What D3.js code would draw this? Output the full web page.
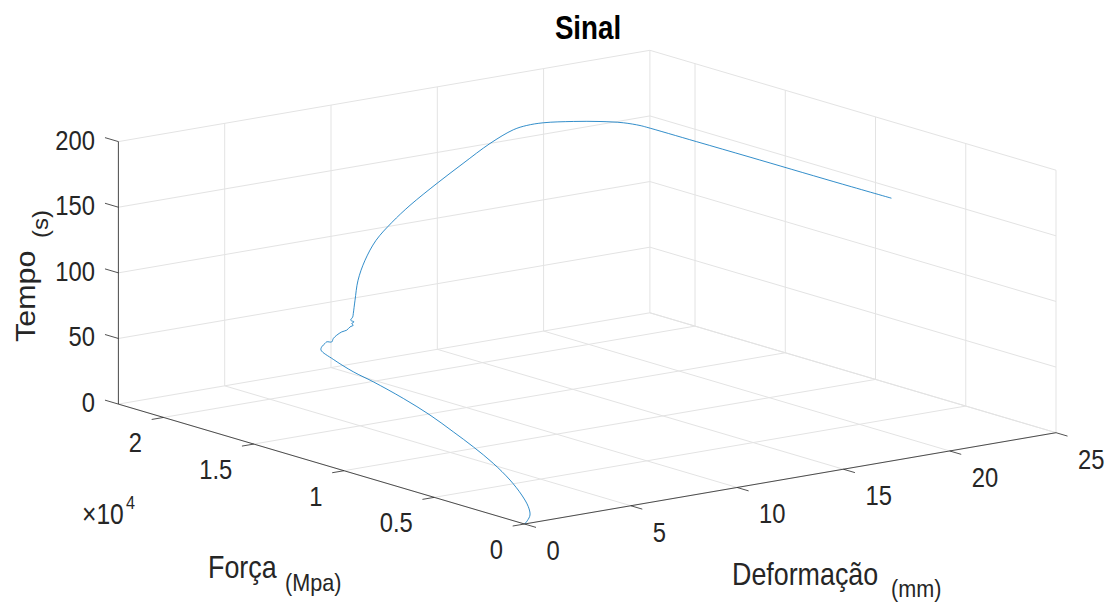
<!DOCTYPE html>
<html><head><meta charset="utf-8">
<script src="https://cdn.jsdelivr.net/npm/d3@7"></script>
<style>body{margin:0;background:#fff} svg{display:block}</style>
</head><body><svg id="c" width="1106" height="604"></svg>
<script>
const deformacao = [0, 0.164, 0.422, 0.732, 1.119, 1.577, 2.044, 2.469, 2.830, 3.220, 3.570, 3.877, 4.040, 4.298, 4.523, 4.662, 4.836, 4.919, 4.978, 5.132, 5.303, 5.492, 5.619, 5.788, 5.894, 5.943, 6.034, 6.063, 6.217, 6.359, 6.907, 7.736, 8.613, 9.536, 10.438, 11.324, 12.514, 13.613, 14.724, 15.541, 15.869, 16.171, 16.574, 16.888, 17.109, 17.198, 17.209, 17.22, 17.23, 17.24, 17.26];
const forca = [0, 38, 192, 651, 1473, 2660, 4137, 5745, 7278, 9027, 10920, 12944, 14243, 15655, 16601, 16726, 16749, 16752, 16544, 16637, 16650, 16596, 16468, 16485, 16427, 16573, 16553, 16770, 16840, 16975, 17526, 18336, 18981, 19458, 19635, 19680, 19587, 19440, 19253, 18924, 18569, 18004, 16817, 15708, 14677, 13857, 13499, 10764, 7799, 3165, 0];
const tempo = [0, 1.9, 4.9, 8.5, 13.0, 18.3, 23.7, 28.6, 32.8, 37.4, 41.4, 45.0, 46.9, 49.9, 52.5, 54.1, 56.1, 57.1, 57.7, 59.5, 61.5, 63.7, 65.2, 67.1, 68.4, 68.9, 70.0, 70.3, 72.1, 73.8, 80.1, 89.7, 99.9, 110.6, 121.1, 131.4, 145.2, 157.9, 170.8, 180.3, 184.1, 187.6, 192.3, 195.9, 198.5, 199.5, 199.6, 199.75, 199.9, 200.0, 200.2];

const defTicks = [0, 5, 10, 15, 20, 25];
const defTickLabels = ["0", "5", "10", "15", "20", "25"];
const forceTicks = [0, 5000, 10000, 15000, 20000];
const forceTickLabels = ["0", "0.5", "1", "1.5", "2"];
const timeTicks = [0, 50, 100, 150, 200];
const timeTickLabels = ["0", "50", "100", "150", "200"];

const svg = d3.select("#c");
const FONT = "'Liberation Sans', Arial, Helvetica, sans-serif";

const xS = d3.scaleLinear().domain([0, 25]).range([0, 1]);
const yS = d3.scaleLinear().domain([0, 22500]).range([0, 1]);
const zS = d3.scaleLinear().domain([0, 200]).range([0, 1]);
const O = [524.5, 524], VX = [531.5, -91.3], VY = [-406.1, -119.9], VZ = [0, -262.5];
function P(d, f, t) {
  const a = xS(d), b = yS(f), c = zS(t);
  return [O[0] + a*VX[0] + b*VY[0] + c*VZ[0], O[1] + a*VX[1] + b*VY[1] + c*VZ[1]];
}
function unit(v){const l=Math.hypot(v[0],v[1]);return [v[0]/l,v[1]/l];}
function seg(g, a, b) {
  g.append("line").attr("x1", a[0]).attr("y1", a[1]).attr("x2", b[0]).attr("y2", b[1]);
}
const [d0, d1] = xS.domain(), [f0, f1] = yS.domain(), [t0, t1] = zS.domain();

// grid
const grid = svg.append("g").attr("stroke", "#e3e3e3").attr("stroke-width", 1).attr("fill", "none");
defTicks.forEach(d => seg(grid, P(d, f1, t0), P(d, f1, t1)));
timeTicks.forEach(t => seg(grid, P(d0, f1, t), P(d1, f1, t)));
forceTicks.forEach(f => seg(grid, P(d1, f, t0), P(d1, f, t1)));
timeTicks.forEach(t => seg(grid, P(d1, f0, t), P(d1, f1, t)));
defTicks.forEach(d => seg(grid, P(d, f0, t0), P(d, f1, t0)));
forceTicks.forEach(f => seg(grid, P(d0, f, t0), P(d1, f, t0)));

// data line
const idx = d3.range(deformacao.length);
const line = d3.line()
  .x(i => P(deformacao[i], forca[i], tempo[i])[0])
  .y(i => P(deformacao[i], forca[i], tempo[i])[1])
  .curve(d3.curveCatmullRom.alpha(0.5));
svg.append("path").attr("d", line(idx)).attr("fill", "none")
  .attr("stroke", "#0072BD").attr("stroke-width", 1).attr("stroke-opacity", 0.8);

// axes
const ax = svg.append("g").attr("stroke", "#262626").attr("stroke-width", 0.8).attr("fill", "none");
seg(ax, P(d0, f1, t0), P(d0, f1, t1));
seg(ax, P(d0, f0, t0), P(d0, f1, t0));
seg(ax, P(d0, f0, t0), P(d1, f0, t0));
const uX = unit(VX), uY = unit(VY);
timeTicks.forEach(t => { const p = P(d0, f1, t); seg(ax, p, [p[0] + 14*uY[0], p[1] + 14*uY[1]]); });
forceTicks.forEach(f => { const p = P(d0, f, t0); seg(ax, p, [p[0] - 12*uX[0], p[1] - 12*uX[1]]); });
defTicks.forEach(d => { const p = P(d, f0, t0); seg(ax, p, [p[0] - 12*uY[0], p[1] - 12*uY[1]]); });

// text helper
function txt(s, x, y, opts) {
  const o = Object.assign({size: 28, sx: 0.85, anchor: "start", weight: "normal", rot: 0}, opts || {});
  svg.append("text")
    .attr("transform", `translate(${x},${y}) scale(${o.sx},1)` + (o.rot ? ` rotate(${o.rot})` : ""))
    .attr("text-anchor", o.anchor).attr("font-family", FONT).attr("font-size", o.size)
    .attr("font-weight", o.weight).attr("fill", o.color || "#262626").text(s);
}

timeTicks.forEach((t, i) => { const p = P(d0, f1, t); txt(timeTickLabels[i], 95, p[1] + 8, {anchor: "end"}); });
forceTicks.forEach((f, i) => { const p = P(d0, f, t0); txt(forceTickLabels[i], p[0] - 21.5, p[1] + 35, {anchor: "end"}); });
defTicks.forEach((d, i) => { const p = P(d, f0, t0); txt(defTickLabels[i], p[0] + 22, p[1] + 36); });

// exponent
txt("\u00d710", 82, 524, {size: 29});
txt("4", 126, 509, {size: 19});

// title
txt("Sinal", 588, 38.5, {size: 33, sx: 0.84, anchor: "middle", weight: "bold", color: "#000"});

// axis labels
txt("Deformação", 732, 585, {size: 30.5, sx: 0.88});
txt("(mm)", 891, 597, {size: 24, sx: 0.9});
txt("Força", 208, 578, {size: 30.5, sx: 0.88});
txt("(Mpa)", 285, 591, {size: 24, sx: 0.9});
txt("Tempo", 35, 342, {size: 30.5, sx: 0.88, rot: -90});
txt("(s)", 48, 238, {size: 24, sx: 0.9, rot: -90});
</script></body></html>
